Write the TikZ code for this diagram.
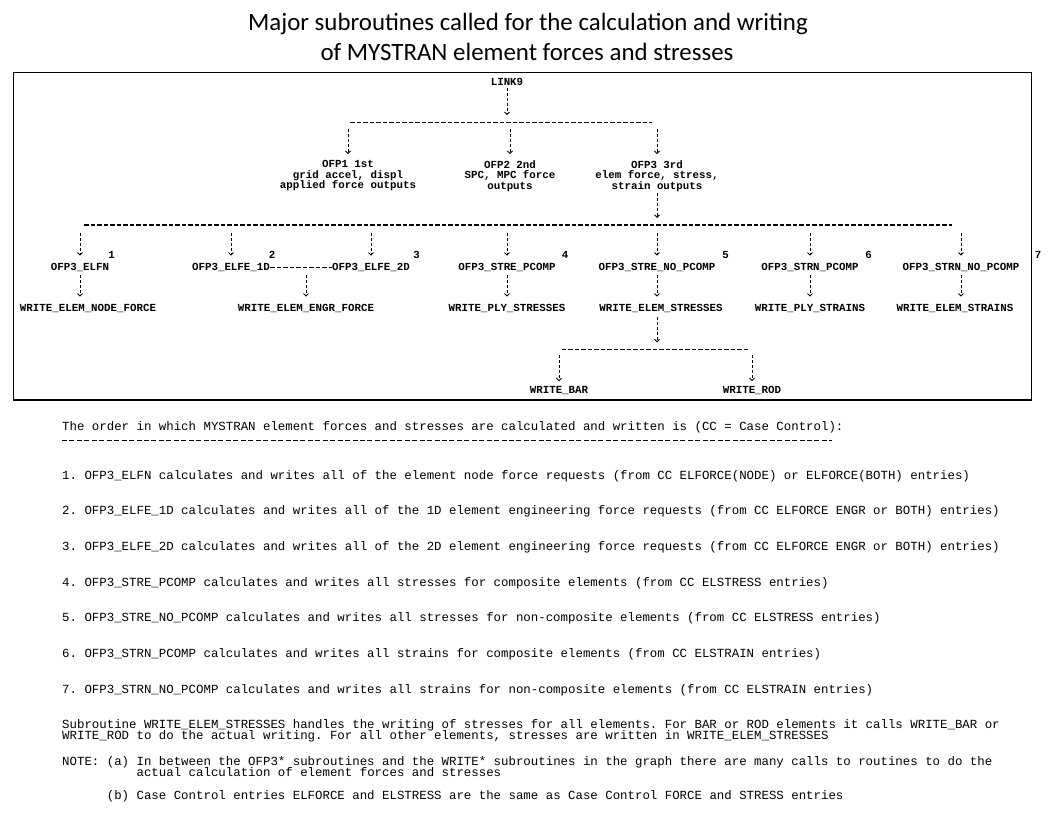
\documentclass[tikz,border=0pt]{standalone}
\usepackage{fontspec}
\setmainfont{Liberation Serif}
\setmonofont{Liberation Mono}
\newfontfamily\titlefont{Carlito}
\usepackage{tikz}
\usetikzlibrary{arrows.meta}
\newcommand{\diagfont}{\ttfamily\bfseries\fontsize{10.8pt}{10.5pt}\selectfont}
\newcommand{\notefont}{\ttfamily\fontsize{12.4pt}{11pt}\selectfont}
\frenchspacing

\begin{document}
\begin{tikzpicture}[x=1pt, y=-1pt,
  routine/.style={font=\diagfont, inner sep=0pt, anchor=base},
  outline/.style={font=\diagfont, inner sep=0pt, anchor=north, align=center},
  stepnum/.style={font=\diagfont, inner sep=0pt, anchor=base},
  notetext/.style={font=\notefont, inner sep=0pt, anchor=base west},
  bus/.style={line width=1.1pt, dash pattern=on 4.5pt off 2pt},
  call/.style={line width=0.9pt, dash pattern=on 3pt off 2pt,
    -{Straight Barb[length=2.5pt,width=5pt,line width=0.9pt]}},
  rule/.style={line width=1.1pt, dash pattern=on 5pt off 2.45pt}]
\useasboundingbox (0,0) rectangle (1048,812);
%%% Draws title
\node[font=\titlefont\fontsize{24.9pt}{30pt}\selectfont, inner sep=0pt, anchor=base] (title1) at (528,30) {Major subroutines called for the calculation and writing};
\node[font=\titlefont\fontsize{24.9pt}{30pt}\selectfont, inner sep=0pt, anchor=base] (title2) at (527,60) {of MYSTRAN element forces and stresses};
%%% Draws call tree
% draws frame
\draw[line width=1.3pt] (13.5,72.2) rectangle (1031.7,400);
% draws routines
\node[routine] (link9) at (507,85.3) {LINK9};
\node[outline] (ofp1) at (348,160.4) {OFP1 1st\\grid accel, displ\\applied force outputs};
\node[outline] (ofp2) at (510,160.4) {OFP2 2nd\\SPC, MPC force\\outputs};
\node[outline] (ofp3) at (657,160.4) {OFP3 3rd\\elem force, stress,\\strain outputs};
\node[routine] (elfn) at (80,270.6) {OFP3\_ELFN};
\node[routine] (elfe1d) at (231,270.6) {OFP3\_ELFE\_1D};
\node[routine] (elfe2d) at (371,270.6) {OFP3\_ELFE\_2D};
\node[routine] (strep) at (507,270.6) {OFP3\_STRE\_PCOMP};
\node[routine] (strenp) at (657,270.6) {OFP3\_STRE\_NO\_PCOMP};
\node[routine] (strnp) at (810,270.6) {OFP3\_STRN\_PCOMP};
\node[routine] (strnnp) at (961,270.6) {OFP3\_STRN\_NO\_PCOMP};
\node[routine] (wnf) at (88,311.6) {WRITE\_ELEM\_NODE\_FORCE};
\node[routine] (weng) at (306,311.6) {WRITE\_ELEM\_ENGR\_FORCE};
\node[routine] (wplys) at (507,311.6) {WRITE\_PLY\_STRESSES};
\node[routine] (wes) at (661,311.6) {WRITE\_ELEM\_STRESSES};
\node[routine] (wplyn) at (810,311.6) {WRITE\_PLY\_STRAINS};
\node[routine] (wesn) at (955,311.6) {WRITE\_ELEM\_STRAINS};
\node[routine] (wbar) at (559,393.6) {WRITE\_BAR};
\node[routine] (wrod) at (752,393.6) {WRITE\_ROD};
% label order numbers
\node[stepnum] (n1) at (111.5,258.6) {1};
\node[stepnum] (n2) at (272,258.6) {2};
\node[stepnum] (n3) at (416.5,258.6) {3};
\node[stepnum] (n4) at (565,258.6) {4};
\node[stepnum] (n5) at (725.5,258.6) {5};
\node[stepnum] (n6) at (868.5,258.6) {6};
\node[stepnum] (n7) at (1038,258.6) {7};
% draws branch lines
\coordinate (busAl) at (350,122.7);
\coordinate (busAr) at (652,122.7);
\coordinate (busBl) at (84,225);
\coordinate (busBr) at (952,225);
\coordinate (busCl) at (561.7,349.3);
\coordinate (busCr) at (748,349.3);
\draw[bus] (busAl) -- (busAr);
\draw[bus] (busBl) -- (busBr);
\draw[bus] (busCl) -- (busCr);
\draw[bus] (elfe1d) -- (elfe2d);
% draws calls
\draw[call, shorten <=2.5pt, shorten >=7.5pt] (link9) -- (link9 |- busAl);
\draw[call, shorten <=6.3pt, shorten >=6.3pt] (ofp1 |- busAl) -- (ofp1);
\draw[call, shorten <=6.3pt, shorten >=6.3pt] (ofp2 |- busAl) -- (ofp2);
\draw[call, shorten <=6.3pt, shorten >=6.3pt] (ofp3 |- busAl) -- (ofp3);
\draw[call, shorten <=1pt, shorten >=7pt] (ofp3) -- (ofp3 |- busBl);
\draw[call, shorten <=7.7pt, shorten >=7.5pt] (elfn |- busBl) -- (elfn);
\draw[call, shorten <=7.7pt, shorten >=7.5pt] (elfe1d |- busBl) -- (elfe1d);
\draw[call, shorten <=7.7pt, shorten >=7.5pt] (elfe2d |- busBl) -- (elfe2d);
\draw[call, shorten <=7.7pt, shorten >=7.5pt] (strep |- busBl) -- (strep);
\draw[call, shorten <=7.7pt, shorten >=7.5pt] (strenp |- busBl) -- (strenp);
\draw[call, shorten <=7.7pt, shorten >=7.5pt] (strnp |- busBl) -- (strnp);
\draw[call, shorten <=7.7pt, shorten >=7.5pt] (strnnp |- busBl) -- (strnnp);
\draw[call, shorten <=3pt, shorten >=7.5pt] (elfn) -- (elfn |- wnf.north);
\draw[call, shorten <=7pt, shorten >=7.5pt] (weng |- elfe1d) -- (weng);
\draw[call, shorten <=3pt, shorten >=7.5pt] (strep) -- (wplys);
\draw[call, shorten <=3pt, shorten >=7.5pt] (strenp) -- (strenp |- wes.north);
\draw[call, shorten <=3pt, shorten >=7.5pt] (strnp) -- (wplyn);
\draw[call, shorten <=3pt, shorten >=7.5pt] (strnnp) -- (strnnp |- wesn.north);
\draw[call, shorten <=4pt, shorten >=7pt] (strenp |- wes.south) -- (strenp |- busCl);
\draw[call, shorten <=6pt, shorten >=5pt] (wbar |- busCl) -- (wbar);
\draw[call, shorten <=6pt, shorten >=5pt] (wrod |- busCr) -- (wrod);
%%% Draws notes
\node[notetext] (order) at (62,430.8) {The order in which MYSTRAN element forces and stresses are calculated and written is (CC = Case Control):};
\draw[rule] (62,440.7) -- (832,440.7);
\node[notetext] (item1) at (62,479.1) {1. OFP3\_ELFN calculates and writes all of the element node force requests (from CC ELFORCE(NODE) or ELFORCE(BOTH) entries)};
\node[notetext] (item2) at (62,514.8) {2. OFP3\_ELFE\_1D calculates and writes all of the 1D element engineering force requests (from CC ELFORCE ENGR or BOTH) entries)};
\node[notetext] (item3) at (62,550.5) {3. OFP3\_ELFE\_2D calculates and writes all of the 2D element engineering force requests (from CC ELFORCE ENGR or BOTH) entries)};
\node[notetext] (item4) at (62,586.2) {4. OFP3\_STRE\_PCOMP calculates and writes all stresses for composite elements (from CC ELSTRESS entries)};
\node[notetext] (item5) at (62,621.9) {5. OFP3\_STRE\_NO\_PCOMP calculates and writes all stresses for non-composite elements (from CC ELSTRESS entries)};
\node[notetext] (item6) at (62,657.6) {6. OFP3\_STRN\_PCOMP calculates and writes all strains for composite elements (from CC ELSTRAIN entries)};
\node[notetext] (item7) at (62,693.3) {7. OFP3\_STRN\_NO\_PCOMP calculates and writes all strains for non-composite elements (from CC ELSTRAIN entries)};
\node[notetext] (sub1) at (62,728.1) {Subroutine WRITE\_ELEM\_STRESSES handles the writing of stresses for all elements. For BAR or ROD elements it calls WRITE\_BAR or};
\node[notetext] (sub2) at (62,739.1) {WRITE\_ROD to do the actual writing. For all other elements, stresses are written in WRITE\_ELEM\_STRESSES};
\node[notetext] (notea1) at (62,765.3) {NOTE: (a) In between the OFP3* subroutines and the WRITE* subroutines in the graph there are many calls to routines to do the};
\node[notetext] (notea2) at (62,776.3) {\hphantom{NOTE:~(a)~}actual calculation of element forces and stresses};
\node[notetext] (noteb) at (62,799.1) {\hphantom{NOTE:~}(b) Case Control entries ELFORCE and ELSTRESS are the same as Case Control FORCE and STRESS entries};
\end{tikzpicture}
\end{document}
